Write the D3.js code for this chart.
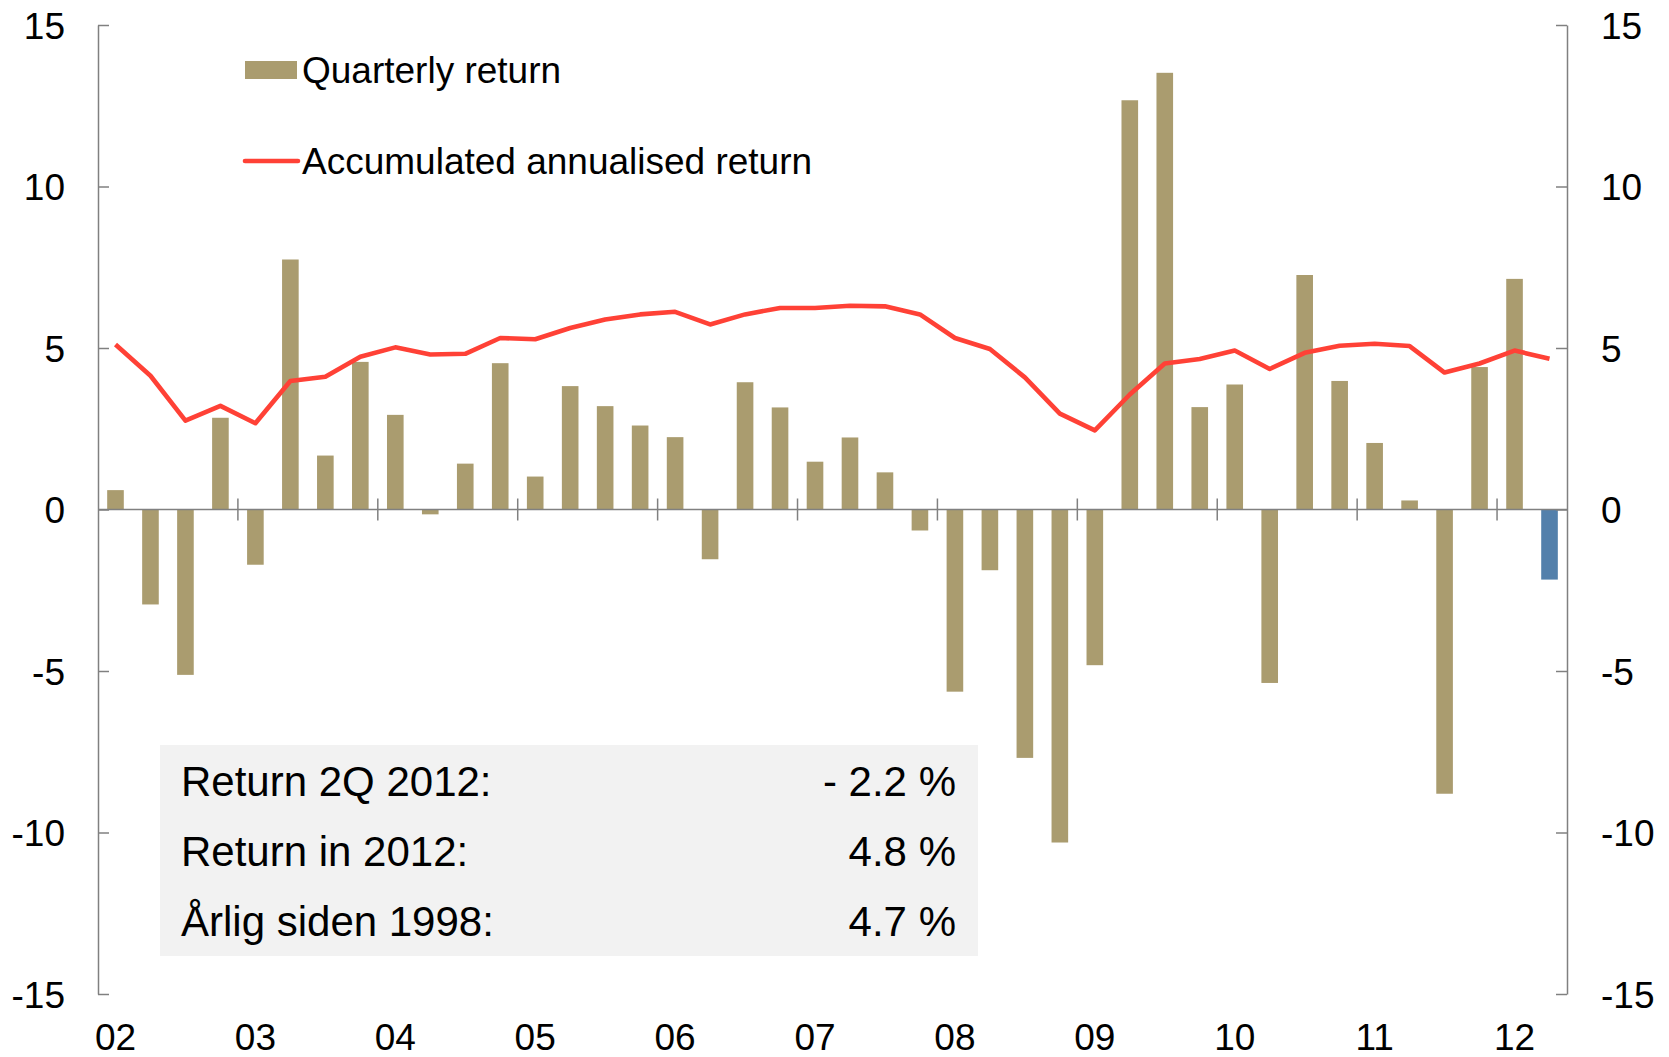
<!DOCTYPE html>
<html>
<head>
<meta charset="utf-8">
<script src="https://cdn.jsdelivr.net/npm/d3@7"></script>
<style>
  body { margin: 0; background: #fff; }
  svg { display: block; font-family: "Liberation Sans", Arial, sans-serif; }
</style>
</head>
<body>
<svg></svg>
<script>
// year labels on the x axis, quarters run 2002Q1 .. 2012Q2
var yearLabels = ["02", "03", "04", "05", "06", "07", "08", "09", "10", "11", "12"];
var quarters = [];
yearLabels.forEach(function(y) {
  ["Q1", "Q2", "Q3", "Q4"].forEach(function(q) { quarters.push(y + q); });
});
quarters = quarters.slice(0, 42);

// quarterly return, per cent
var quarterlyReturn = [
  0.6, -2.94, -5.12, 2.84,
  -1.71, 7.74, 1.67, 4.57,
  2.93, -0.15, 1.42, 4.53,
  1.02, 3.82, 3.2, 2.6,
  2.24, -1.54, 3.94, 3.16,
  1.48, 2.23, 1.15, -0.65,
  -5.64, -1.88, -7.69, -10.31,
  -4.82, 12.67, 13.52, 3.17,
  3.87, -5.37, 7.26, 3.98,
  2.06, 0.28, -8.8, 4.41,
  7.14, -2.17
];

// accumulated annualised return, per cent
var accumulatedReturn = [
  5.11, 4.14, 2.75, 3.21,
  2.67, 3.98, 4.11, 4.73,
  5.02, 4.8, 4.82, 5.31,
  5.27, 5.62, 5.88, 6.04,
  6.12, 5.73, 6.04, 6.24,
  6.24, 6.31, 6.29, 6.04,
  5.31, 4.97, 4.09, 2.97,
  2.45, 3.56, 4.52, 4.66,
  4.92, 4.35, 4.85, 5.07,
  5.13, 5.06, 4.24, 4.52,
  4.92, 4.67
];

var yTicks = [-15, -10, -5, 0, 5, 10, 15];
var legendLabels = ["Quarterly return", "Accumulated annualised return"];
var boxLabels = ["Return 2Q 2012:", "Return in 2012:", "Årlig siden 1998:"];
var boxValues = ["- 2.2 %", "4.8 %", "4.7 %"];

var width = 1669, height = 1057;
var plot = {left: 98, right: 1567, top: 25, bottom: 994};

var svg = d3.select("svg")
    .attr("width", width)
    .attr("height", height);

var x = d3.scaleBand()
    .domain(quarters)
    .range([plot.left, plot.right])
    .paddingInner(0.525)
    .paddingOuter(0.2625);

var y = d3.scaleLinear()
    .domain([-15, 15])
    .range([plot.bottom, plot.top]);

var step = x.step();
var gap = step - x.bandwidth();

// bars
svg.append("g")
  .selectAll("rect")
  .data(quarterlyReturn)
  .enter()
  .append("rect")
    .attr("x", function(d, i) { return x(quarters[i]); })
    .attr("width", x.bandwidth())
    .attr("y", function(d) { return y(Math.max(0, d)); })
    .attr("height", function(d) { return Math.abs(y(d) - y(0)); })
    .attr("fill", function(d, i) { return i == quarters.length - 1 ? "#5380ab" : "#aa9c6f"; });

// zero line
svg.append("line")
    .attr("x1", plot.left).attr("x2", plot.right)
    .attr("y1", y(0)).attr("y2", y(0))
    .attr("stroke", "#808080")
    .attr("stroke-width", 1.5);

// year ticks crossing the zero line
var yearStarts = quarters.filter(function(q, i) { return i > 0 && q.slice(2) == "Q1"; });
svg.append("g")
  .selectAll("line")
  .data(yearStarts)
  .enter()
  .append("line")
    .attr("x1", function(q) { return x(q) - gap / 2; })
    .attr("x2", function(q) { return x(q) - gap / 2; })
    .attr("y1", y(0) - 11)
    .attr("y2", y(0) + 11)
    .attr("stroke", "#808080")
    .attr("stroke-width", 1.5);

// year labels
var xAxis = svg.append("g")
    .attr("transform", "translate(0," + (plot.bottom + 30) + ")")
    .call(d3.axisBottom(x)
      .tickValues(quarters.filter(function(q) { return q.slice(2) == "Q1"; }))
      .tickFormat(function(q) { return q.slice(0, 2); })
      .tickSize(0)
      .tickPadding(0));
xAxis.select(".domain").remove();
xAxis.selectAll("text")
    .attr("dy", "0.71em")
    .attr("font-size", 37)
    .attr("font-family", "Liberation Sans, Arial, sans-serif")
    .attr("fill", "#000");

// left and right axes, plain hyphen for negatives
var fmt = function(d) { return String(d); };
var yLeft = svg.append("g")
    .attr("transform", "translate(" + plot.left + ",0)")
    .call(d3.axisLeft(y).tickValues(yTicks).tickFormat(fmt).tickSizeInner(-11).tickSizeOuter(0).tickPadding(33));
var yRight = svg.append("g")
    .attr("transform", "translate(" + plot.right + ",0)")
    .call(d3.axisRight(y).tickValues(yTicks).tickFormat(fmt).tickSizeInner(-11).tickSizeOuter(0).tickPadding(34));
[yLeft, yRight].forEach(function(g) {
  g.selectAll("path, line").attr("stroke", "#808080").attr("stroke-width", 1.5);
  g.selectAll("text")
    .attr("font-size", 37)
    .attr("font-family", "Liberation Sans, Arial, sans-serif")
    .attr("fill", "#000")
    .attr("dy", "0.36em");
});

// accumulated line
var line = d3.line()
    .x(function(d, i) { return x(quarters[i]) + x.bandwidth() / 2; })
    .y(function(d) { return y(d); });
svg.append("path")
    .datum(accumulatedReturn)
    .attr("d", line)
    .attr("fill", "none")
    .attr("stroke", "#ff4136")
    .attr("stroke-width", 4.6)
    .attr("stroke-linejoin", "round");

// legend
svg.append("rect")
    .attr("x", 245).attr("y", 61)
    .attr("width", 52).attr("height", 18)
    .attr("fill", "#aa9c6f");
svg.append("line")
    .attr("x1", 245).attr("x2", 298)
    .attr("y1", 161).attr("y2", 161)
    .attr("stroke", "#ff4136")
    .attr("stroke-width", 4.6)
    .attr("stroke-linecap", "round");
svg.append("g")
  .selectAll("text")
  .data(legendLabels)
  .enter()
  .append("text")
    .attr("x", 302)
    .attr("y", function(d, i) { return [83, 174][i]; })
    .attr("font-size", 37)
    .attr("fill", "#000")
    .text(function(d) { return d; });

// info box
svg.append("rect")
    .attr("x", 160).attr("y", 745)
    .attr("width", 818).attr("height", 211)
    .attr("fill", "#f2f2f2");
var box = svg.append("g");
box.selectAll("text.lab")
  .data(boxLabels)
  .enter()
  .append("text")
    .attr("class", "lab")
    .attr("x", 181)
    .attr("y", function(d, i) { return 796 + i * 70; })
    .attr("font-size", 42)
    .text(function(d) { return d; });
box.selectAll("text.val")
  .data(boxValues)
  .enter()
  .append("text")
    .attr("class", "val")
    .attr("x", 956)
    .attr("y", function(d, i) { return 796 + i * 70; })
    .attr("text-anchor", "end")
    .attr("font-size", 42)
    .text(function(d) { return d; });
</script>
</body>
</html>
